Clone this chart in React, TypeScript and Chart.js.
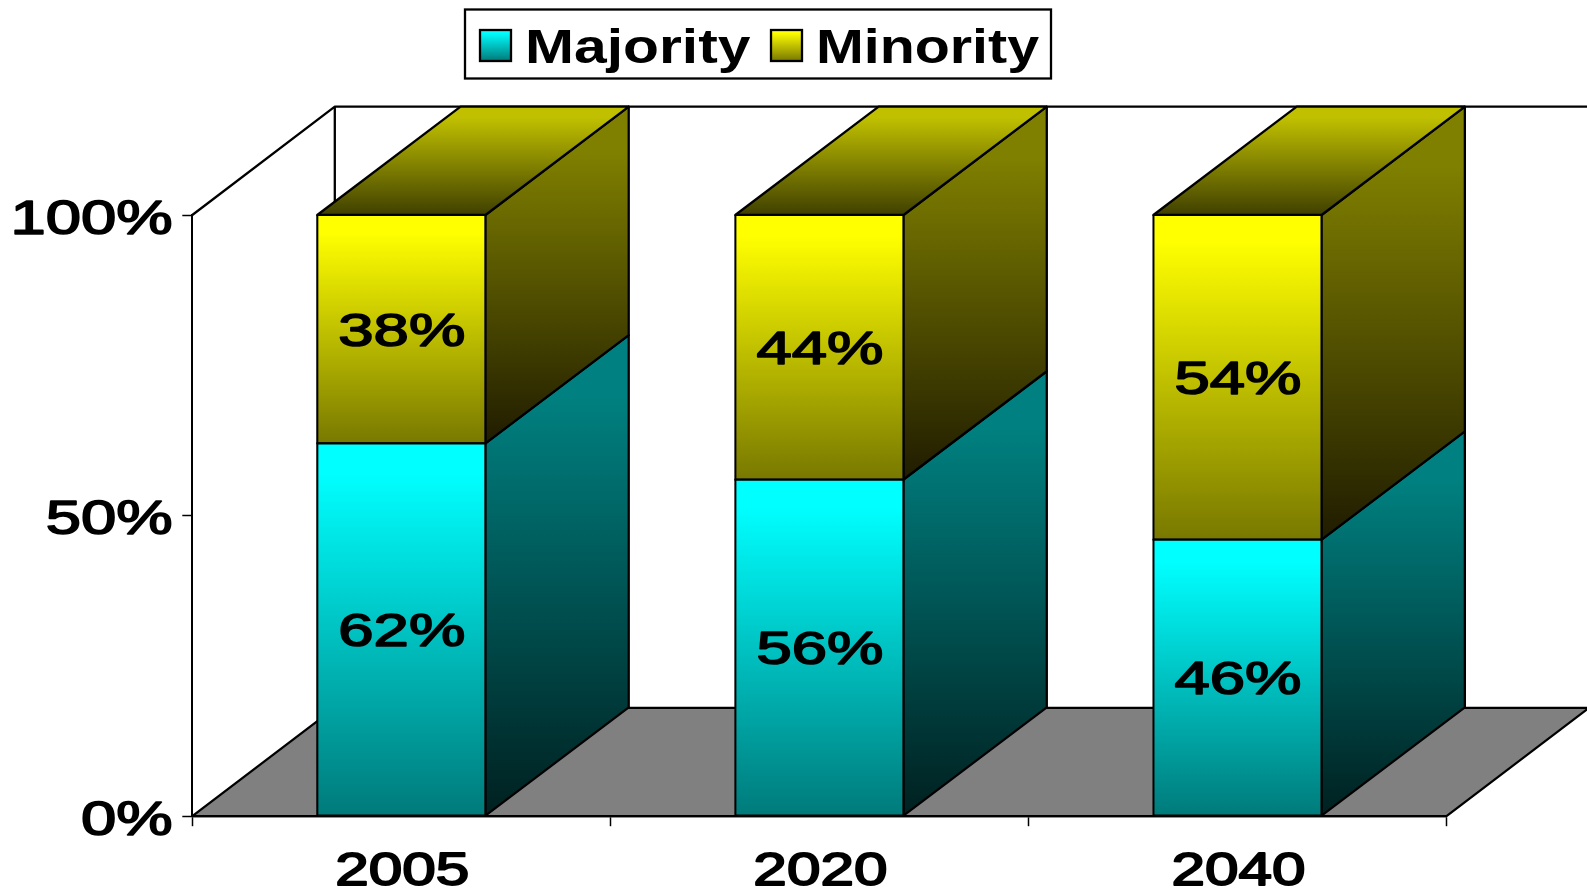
import React, { useEffect, useRef } from "react";
import { Chart, registerables } from "chart.js";

Chart.register(...registerables);

const categories = ["2005", "2020", "2040"];
const majority = [62, 56, 46];
const minority = [38, 44, 54];
const yTicks = [0, 50, 100];

const WALL_DX = 142.5;
const BAR_DX = 143.3;
const DEPTH_Y = 108.3;
const LINE = 2.3;

const palette = [
  { front: ["#00ffff", "#007a7a"], side: ["#008080", "#002020"], top: ["#00c0c0", "#004040"] },
  { front: ["#ffff00", "#787800"], side: ["#808000", "#201c00"], top: ["#c0c000", "#404000"] },
];

function stretched(ctx: any, text: string, x: number, y: number, align: string, sx: number, heavy = 0, size = 46) {
  ctx.save();
  ctx.font = (heavy ? "" : "bold ") + size + 'px "Liberation Sans", Arial, sans-serif';
  ctx.fillStyle = "#000";
  ctx.strokeStyle = "#000";
  ctx.lineJoin = "round";
  ctx.lineWidth = heavy;
  ctx.textBaseline = "alphabetic";
  ctx.textAlign = "left";
  const w = ctx.measureText(text).width * sx;
  const left = align === "right" ? x - w : align === "center" ? x - w / 2 : x;
  ctx.translate(left, y);
  ctx.scale(sx, 1);
  ctx.fillText(text, 0, 0);
  if (heavy) ctx.strokeText(text, 0, 0);
  ctx.restore();
}

function gradient(ctx: any, y0: number, y1: number, stops: string[], hold = 0.08) {
  const g = ctx.createLinearGradient(0, y0, 0, y1);
  g.addColorStop(0, stops[0]);
  g.addColorStop(hold, stops[0]);
  g.addColorStop(1, stops[1]);
  return g;
}

function poly(ctx: any, pts: number[][], fill: any) {
  ctx.beginPath();
  pts.forEach((p, i) => (i ? ctx.lineTo(p[0], p[1]) : ctx.moveTo(p[0], p[1])));
  ctx.closePath();
  ctx.fillStyle = fill;
  ctx.fill();
  ctx.strokeStyle = "#000";
  ctx.lineWidth = LINE;
  ctx.stroke();
}

const frame3d = {
  id: "frame3d",
  beforeDatasetsDraw(chart: any) {
    const { ctx, chartArea: a } = chart;
    ctx.save();
    ctx.strokeStyle = "#000";
    ctx.lineWidth = LINE;
    ctx.lineJoin = "round";
    // walls
    ctx.beginPath();
    ctx.moveTo(a.left, a.top);
    ctx.lineTo(a.left + WALL_DX, a.top - DEPTH_Y);
    ctx.lineTo(1600, a.top - DEPTH_Y);
    ctx.moveTo(a.left + WALL_DX, a.top - DEPTH_Y);
    ctx.lineTo(a.left + WALL_DX, a.bottom - DEPTH_Y);
    ctx.stroke();
    // floor
    poly(
      ctx,
      [
        [a.left, a.bottom],
        [a.right, a.bottom],
        [a.right + WALL_DX, a.bottom - DEPTH_Y],
        [a.left + WALL_DX, a.bottom - DEPTH_Y],
      ],
      "#808080"
    );
    // bar side and top faces
    chart.data.datasets.forEach((_ds: any, d: number) => {
      chart.getDatasetMeta(d).data.forEach((bar: any) => {
        const right = bar.x + bar.width / 2;
        const left = bar.x - bar.width / 2;
        const top = bar.y;
        const base = bar.base;
        poly(
          ctx,
          [
            [right, top],
            [right + BAR_DX, top - DEPTH_Y],
            [right + BAR_DX, base - DEPTH_Y],
            [right, base],
          ],
          gradient(ctx, top - DEPTH_Y, base, palette[d].side, 0.13)
        );
        if (d === chart.data.datasets.length - 1) {
          poly(
            ctx,
            [
              [left, top],
              [right, top],
              [right + BAR_DX, top - DEPTH_Y],
              [left + BAR_DX, top - DEPTH_Y],
            ],
            gradient(ctx, top - DEPTH_Y, top, palette[d].top, 0.1)
          );
        }
      });
    });
    ctx.restore();
  },
  afterDatasetsDraw(chart: any) {
    const { ctx, scales } = chart;
    // data labels
    chart.data.datasets.forEach((ds: any, d: number) => {
      chart.getDatasetMeta(d).data.forEach((bar: any, i: number) => {
        const mid = (bar.y + bar.base) / 2;
        stretched(ctx, ds.data[i] + "%", bar.x + 0.5, mid + 16.5, "center", 1.35, 1.6, 47);
      });
    });
    // value axis labels
    scales.y.ticks.forEach((t: any) => {
      stretched(ctx, t.value + "%", 172.5, scales.y.getPixelForValue(t.value) + 18.5, "right", 1.32, 1.6, 48);
    });
    // category labels
    chart.data.labels.forEach((label: string, i: number) => {
      stretched(ctx, label, scales.x.getPixelForTick(i) + 1, 885, "center", 1.31, 1.8);
    });
    // legend
    ctx.save();
    ctx.fillStyle = "#fff";
    ctx.strokeStyle = "#000";
    ctx.lineWidth = LINE;
    ctx.fillRect(465, 9.5, 586, 69);
    ctx.strokeRect(465, 9.5, 586, 69);
    const swatchX = [480, 771];
    const textX = [525, 816];
    const textStretch = [1.225, 1.195];
    chart.data.datasets.forEach((ds: any, d: number) => {
      ctx.fillStyle = gradient(ctx, 30, 61, palette[d].front);
      ctx.fillRect(swatchX[d], 30, 31, 31);
      ctx.strokeRect(swatchX[d], 30, 31, 31);
      stretched(ctx, ds.label, textX[d], 63, "left", textStretch[d], 0, 48);
    });
    ctx.restore();
  },
};

export default function App() {
  const ref = useRef<HTMLCanvasElement | null>(null);
  useEffect(() => {
    const canvas = ref.current;
    if (!canvas) return;
    const fill = (d: number) => (c: any) => {
      const ch = c.chart;
      const y = ch.scales?.y;
      if (!y || c.dataIndex === undefined) return palette[d].front[0];
      const below = d === 0 ? 0 : majority[c.dataIndex];
      const value = d === 0 ? majority[c.dataIndex] : minority[c.dataIndex];
      const y0 = y.getPixelForValue(below + value);
      const y1 = y.getPixelForValue(below);
      if (!Number.isFinite(y0) || !Number.isFinite(y1)) return palette[d].front[0];
      return gradient(ch.ctx, y0, y1, palette[d].front);
    };
    const bar = { borderColor: "#000", borderWidth: 2.2, borderSkipped: false, inflateAmount: 1.1 };
    const chart = new Chart(canvas, {
      type: "bar",
      data: {
        labels: categories,
        datasets: [
          { label: "Majority", data: majority, backgroundColor: fill(0), ...bar },
          { label: "Minority", data: minority, backgroundColor: fill(1), ...bar },
        ],
      },
      options: {
        responsive: false,
        animation: false,
        events: [],
        categoryPercentage: 1,
        barPercentage: 0.4023,
        layout: { padding: { left: 0, top: 215, right: 140.5, bottom: 0 } },
        plugins: { legend: { display: false }, tooltip: { enabled: false }, title: { display: false } },
        scales: {
          x: {
            stacked: true,
            afterFit: (s: any) => { s.height = 73.8; },
            ticks: { display: false },
            border: { display: true, color: "#000", width: 2.3 },
            grid: { drawOnChartArea: false, drawTicks: true, tickLength: 10, tickWidth: 1.5, tickColor: "#000" },
          },
          y: {
            stacked: true,
            min: yTicks[0],
            max: yTicks[2],
            afterFit: (s: any) => { s.width = 192.3; },
            afterBuildTicks: (s: any) => { s.ticks = yTicks.map((value) => ({ value })); },
            ticks: { display: false },
            border: { display: true, color: "#000", width: 2 },
            grid: { drawOnChartArea: false, drawTicks: true, tickLength: 10, tickWidth: 1.5, tickColor: "#000" },
          },
        },
      } as any,
      plugins: [frame3d],
    });
    return () => chart.destroy();
  }, []);
  return (
    <canvas
      ref={ref}
      width={1587}
      height={890}
      style={{ position: "fixed", left: 0, top: 0, display: "block", width: 1587, height: 890 }}
    />
  );
}
